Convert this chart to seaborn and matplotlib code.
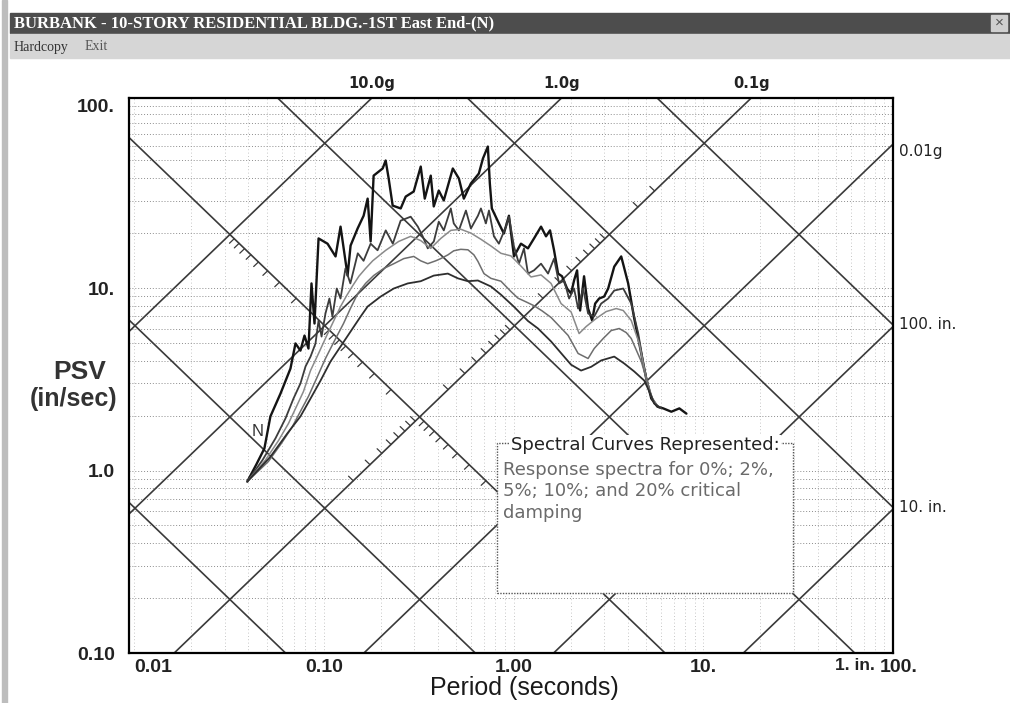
import numpy as np
import pandas as pd
import seaborn as sns
import matplotlib.pyplot as plt
import matplotlib.transforms as mtransforms
from matplotlib.patches import Rectangle
from matplotlib.ticker import LogLocator, NullFormatter

# response spectra: period (s) and PSV (in/sec), one pair per damping
per_00 = [0.0395, 0.0441, 0.0486, 0.0523, 0.0591, 0.0667, 0.0709, 0.0753, 0.0791, 0.0830, 0.0861, 0.0893,
          0.0938, 0.1046, 0.1153, 0.1225, 0.1334, 0.1384, 0.1507, 0.1621, 0.1702, 0.1765, 0.1830, 0.2042,
          0.2118, 0.2197, 0.2306, 0.2542, 0.2701, 0.2977, 0.3242, 0.3404, 0.3661, 0.3797, 0.4035, 0.4288,
          0.4785, 0.5152, 0.5470, 0.5956, 0.6563, 0.6894, 0.7321, 0.7500, 0.7684, 0.8370, 0.8892, 0.9455,
          1.005, 1.094, 1.191, 1.282, 1.396, 1.483, 1.557, 1.635, 1.717, 1.801, 1.915, 2.010, 2.084, 2.162,
          2.243, 2.353, 2.471, 2.596, 2.692, 2.825, 3.002, 3.153, 3.394, 3.694, 4.019, 4.325, 4.712, 5.003,
          5.321, 5.728, 6.153, 6.787, 7.480, 8.15]
psv_00 = [0.87, 1.08, 1.32, 1.98, 2.64, 3.62, 4.97, 4.54, 5.49, 4.66, 10.6, 6.39,
          18.7, 17.5, 14.9, 21.7, 11.7, 17.1, 21.2, 24.9, 30.9, 18.0, 41.3, 45.2,
          50.0, 39.8, 28.3, 27.3, 31.7, 33.8, 46.3, 30.9, 41.3, 28.0, 34.2, 30.2,
          45.2, 39.8, 30.9, 37.4, 42.4, 51.2, 59.6, 37.4, 27.3, 22.6, 19.9, 24.9,
          14.9, 17.5, 16.5, 18.7, 21.7, 19.2, 20.7, 16.1, 12.0, 11.6, 9.94, 9.33, 11.0, 12.5,
          7.53, 11.6, 7.72, 6.64, 8.22, 8.76, 8.98, 9.94, 13.1, 14.9, 10.6, 6.81, 4.38, 3.19,
          2.48, 2.24, 2.19, 2.10, 2.19, 2.05]

per_02 = [0.0395, 0.0475, 0.0556, 0.0628, 0.0692, 0.0753, 0.0801, 0.0851, 0.0904, 0.0938, 0.0973, 0.102,
          0.107, 0.111, 0.117, 0.1225, 0.130, 0.138, 0.151, 0.162, 0.1765, 0.192, 0.212, 0.231, 0.254,
          0.287, 0.313, 0.332, 0.353, 0.380, 0.4035, 0.429, 0.467, 0.484, 0.515, 0.561, 0.596, 0.649,
          0.673, 0.715, 0.742, 0.788, 0.837, 0.912, 0.946, 1.005, 1.068, 1.135, 1.191, 1.282, 1.396,
          1.520, 1.635, 1.738, 1.847, 1.963, 2.084, 2.189, 2.326, 2.471, 2.660, 2.896, 3.153, 3.394,
          3.786, 4.172, 4.543, 4.887, 5.194, 5.518, 6.010]
psv_02 = [0.87, 1.14, 1.50, 1.93, 2.48, 3.00, 3.72, 4.21, 4.97, 6.64, 5.42, 7.25,
          8.76, 6.98, 9.94, 8.76, 12.8, 10.6, 15.5, 14.1, 17.5, 16.1, 20.7, 17.5, 23.4,
          24.6, 21.7, 19.2, 16.5, 18.0, 23.1, 20.7, 27.3, 22.6, 20.7, 26.6, 21.2, 24.9,
          27.3, 22.6, 26.6, 19.2, 17.5, 21.7, 24.6, 16.9, 13.6, 16.5, 12.0, 12.5, 13.6,
          12.0, 14.5, 10.6, 11.0, 8.76, 9.94, 7.72, 9.94, 7.25, 6.98, 8.22, 8.76, 9.69,
          9.94, 8.22, 5.63, 3.62, 2.74, 2.33, 2.19]

per_05 = [0.0395, 0.0492, 0.0577, 0.0651, 0.0717, 0.0781, 0.0851, 0.0938, 0.103, 0.113, 0.1225, 0.132,
          0.142, 0.153, 0.166, 0.181, 0.212, 0.248, 0.287, 0.324, 0.366, 0.4135, 0.467, 0.527, 0.596,
          0.673, 0.760, 0.858, 0.969, 1.094, 1.236, 1.396, 1.576, 1.780, 2.010, 2.216, 2.413, 2.725,
          3.077, 3.475, 3.786, 4.172, 4.599, 5.003, 5.321, 5.655]
psv_05 = [0.87, 1.14, 1.46, 1.81, 2.24, 2.71, 3.53, 4.38, 5.42, 6.64, 7.92, 9.10,
          10.3, 11.6, 12.8, 14.1, 16.1, 18.0, 19.2, 18.2, 16.5, 18.7, 20.7, 21.0, 20.0,
          18.5, 17.0, 15.5, 15.0, 13.2, 11.5, 11.8, 10.6, 8.22, 7.40, 5.63, 6.15, 6.81,
          7.43, 7.72, 7.53, 6.64, 4.97, 3.19, 2.55, 2.30]

per_10 = [0.0395, 0.0510, 0.0598, 0.0683, 0.0753, 0.0830, 0.0915, 0.102, 0.114, 0.127, 0.138, 0.151,
          0.166, 0.183, 0.207, 0.234, 0.264, 0.298, 0.324, 0.353, 0.389, 0.4135, 0.451, 0.484, 0.527,
          0.575, 0.618, 0.649, 0.698, 0.760, 0.858, 0.969, 1.055, 1.163, 1.282, 1.413, 1.576, 1.738,
          1.939, 2.189, 2.471, 2.660, 2.968, 3.271, 3.606, 3.926, 4.172, 4.712, 5.069, 5.387, 5.728]
psv_10 = [0.87, 1.12, 1.41, 1.74, 2.11, 2.55, 3.19, 4.11, 5.16, 6.39, 7.72, 9.33,
          10.6, 11.7, 12.8, 13.6, 14.5, 14.9, 14.1, 13.6, 14.1, 14.5, 15.2, 16.0, 16.3,
          16.2, 15.2, 14.0, 12.0, 11.3, 10.9, 9.57, 8.80, 8.40, 8.00, 7.50, 6.90, 6.20,
          5.50, 4.38, 4.11, 4.66, 5.29, 5.85, 6.00, 5.70, 5.29, 3.96, 3.07, 2.48, 2.27]

per_20 = [0.0395, 0.0523, 0.0643, 0.0753, 0.0851, 0.0961, 0.1085, 0.1225, 0.1384, 0.1563, 0.1702, 0.1993,
          0.2336, 0.2769, 0.3242, 0.3797, 0.4505, 0.5087, 0.5745, 0.6486, 0.7596, 0.8578, 1.005, 1.191,
          1.346, 1.576, 1.780, 2.010, 2.270, 2.564, 2.896, 3.394, 3.83, 4.325, 4.887, 5.194, 5.518, 5.865]
psv_20 = [0.87, 1.19, 1.60, 1.98, 2.48, 3.11, 3.96, 4.78, 5.78, 6.98, 7.92, 8.98,
          9.94, 10.6, 10.9, 11.7, 12.0, 11.3, 10.9, 11.0, 10.2, 9.20, 7.90, 6.60,
          6.00, 5.10, 4.40, 3.80, 3.53, 3.70, 4.01, 4.21, 3.86, 3.49, 3.11, 2.71, 2.33, 2.21]

damping = ['0%', '2%', '5%', '10%', '20%']

x_ticks = [0.01, 0.1, 1, 10, 100]
x_labels = ['0.01', '0.10', '1.00', '10.', '100.']
y_ticks = [0.1, 1, 10, 100]
y_labels = ['0.10', '1.0', '10.', '100.']

# tripartite grid: constant displacement (in) and constant acceleration (g)
disp_in = [0.001, 0.01, 0.1, 1, 10, 100]
acc_g = [0.0001, 0.001, 0.01, 0.1, 1, 10]
top_acc = {10: '10.0g', 1: '1.0g', 0.1: '0.1g'}
right_acc = {0.01: '0.01g'}
right_disp = {100: '100. in.', 10: '10. in.'}
bottom_disp = {1: '1. in.'}
G = 386.1  # in/s^2

win_title = 'BURBANK - 10-STORY RESIDENTIAL BLDG.-1ST East End-(N)'
box_title = 'Spectral Curves Represented:'
box_lines = ['Response spectra for 0%; 2%,', '5%; 10%; and 20% critical', 'damping']

##############################################################################
frames = []
for lab, t, v in zip(damping, [per_00, per_02, per_05, per_10, per_20],
                     [psv_00, psv_02, psv_05, psv_10, psv_20]):
    frames.append(pd.DataFrame({'period': t, 'psv': v, 'damping': lab}))
df = pd.concat(frames, ignore_index=True)

sns.set_style('white')
plt.rcParams['font.family'] = ['Liberation Sans', 'DejaVu Sans']

W, H = 1010, 703
fig = plt.figure(figsize=(W / 100, H / 100), dpi=100)
fig.patch.set_facecolor('white')

def fx(px):
    return px / W

def fy(py):
    return 1 - py / H

# window chrome
fig.patches.append(Rectangle((fx(10), fy(33)), fx(1000), 20 / H, transform=fig.transFigure,
                             color='#4d4d4d', zorder=0))
fig.patches.append(Rectangle((fx(10), fy(58)), fx(1000), 24 / H, transform=fig.transFigure,
                             color='#d6d6d6', zorder=0))
fig.patches.append(Rectangle((fx(2), 0), fx(5), 1, transform=fig.transFigure,
                             color='#bdbdbd', zorder=0))
fig.patches.append(Rectangle((fx(991), fy(31)), fx(16), 16 / H, transform=fig.transFigure,
                             color='#cfcfcf', zorder=1))
fig.text(fx(999), fy(23), '×', ha='center', va='center', fontsize=11, color='#555555')
fig.text(fx(14), fy(23), win_title, color='white', fontweight='bold', fontsize=12,
         family=['Liberation Serif', 'DejaVu Serif'], va='center')
fig.text(fx(14), fy(47), 'Hardcopy', fontsize=10, family=['Liberation Serif', 'DejaVu Serif'],
         va='center', color='#333333')
fig.text(fx(85), fy(47), 'Exit', fontsize=10, family=['Liberation Serif', 'DejaVu Serif'],
         va='center', color='#555555')

ax = fig.add_axes([fx(129), fy(653), fx(764), 555 / H])
ax.set_xscale('log')
ax.set_yscale('log')
ax.set_xlim(0.0094, 100)
ax.set_ylim(0.1, 110)

# dotted log grid
ax.xaxis.set_minor_locator(LogLocator(base=10, subs=np.arange(2, 10)))
ax.yaxis.set_minor_locator(LogLocator(base=10, subs=np.arange(2, 10)))
ax.xaxis.set_minor_formatter(NullFormatter())
ax.yaxis.set_minor_formatter(NullFormatter())
ax.grid(True, axis='y', which='both', ls=(0, (1, 2)), color='#8c8c8c', lw=0.7, zorder=0)
ax.grid(True, axis='x', which='both', ls=(0, (1, 3)), color='#b3b3b3', lw=0.6, zorder=0)

# diagonal lines
tt = np.array([1e-4, 1e4])
for d in disp_in:
    ax.plot(tt, 2 * np.pi * d / tt, color='#3a3a3a', lw=1.2, zorder=1)
for a in acc_g:
    ax.plot(tt, a * G * tt / (2 * np.pi), color='#3a3a3a', lw=1.2, zorder=1)

# small ticks along the 0.1 in and 0.1 g lines (middle part only, as on the scan)
dd = 0.025
for k in range(-4, 3):
    for m in range(2, 10):
        a = m * 10.0 ** k
        t = 2 * np.pi * np.sqrt(0.1 / (a * G))
        v = 2 * np.pi * 0.1 / t
        if 0.032 < t < 0.8:
            ax.plot([t, t * 10 ** -dd], [v, v * 10 ** -dd], color='#3a3a3a', lw=0.9, zorder=1)
        dval = m * 10.0 ** k
        t = 2 * np.pi * np.sqrt(dval / (0.1 * G))
        v = 2 * np.pi * dval / t
        if 0.14 < t < 6:
            ax.plot([t, t * 10 ** -dd], [v, v * 10 ** dd], color='#3a3a3a', lw=0.9, zorder=1)

# spectral curves
palette = {'0%': '#141414', '2%': '#3c3c3c', '5%': '#8a8a8a', '10%': '#6e6e6e', '20%': '#2e2e2e'}
sizes = {'0%': 1.7, '2%': 1.3, '5%': 1.1, '10%': 1.1, '20%': 1.3}
sns.lineplot(data=df, x='period', y='psv', hue='damping', size='damping', palette=palette,
             sizes=sizes, sort=False, estimator=None, legend=False, ax=ax, zorder=3)
ax.text(0.0449, 1.63, 'N', fontsize=12, color='#333333', ha='center', va='center', zorder=3)

# labels of the diagonal lines
ytop = ax.get_ylim()[1]
for a, lab in top_acc.items():
    ax.text(2 * np.pi * ytop / (a * G), 1.012, lab, transform=ax.get_xaxis_transform(),
            ha='center', va='bottom', fontsize=10.5, fontweight='bold', family='DejaVu Sans',
            color='#222222')
for a, lab in right_acc.items():
    ax.text(1.008, a * G * 100 / (2 * np.pi), lab, transform=ax.get_yaxis_transform(),
            ha='left', va='top', fontsize=11, family='DejaVu Sans', color='#222222')
for d, lab in right_disp.items():
    ax.text(1.008, 2 * np.pi * d / 100, lab, transform=ax.get_yaxis_transform(),
            ha='left', va='center', fontsize=11, family='DejaVu Sans', color='#222222')
for d, lab in bottom_disp.items():
    ax.text(2 * np.pi * d / 0.1, -0.009, lab, transform=ax.get_xaxis_transform(),
            ha='center', va='top', fontsize=12.5, fontweight='bold', color='#222222')

ax.set_xticks(x_ticks)
ax.set_xticklabels(x_labels)
ax.set_yticks(y_ticks)
ax.set_yticklabels(y_labels)
ax.tick_params(which='both', length=0)
ax.tick_params(axis='x', pad=4)
ax.tick_params(axis='y', pad=10)
for lbl in ax.get_xticklabels() + ax.get_yticklabels():
    lbl.set_fontsize(14)
    lbl.set_fontweight('bold')
    lbl.set_color('#222222')
xl = ax.get_xticklabels()
xl[0].set_horizontalalignment('left')
xl[-1].set_transform(xl[-1].get_transform() +
                     mtransforms.ScaledTranslation(6 / 100, 0, fig.dpi_scale_trans))

ax.set_xlabel('')
ax.set_ylabel('')
fig.text(fx(524), fy(688), 'Period (seconds)', fontsize=18, ha='center', va='center',
         color='#1a1a1a')
fig.text(fx(80), fy(372), 'PSV', fontsize=19, fontweight='bold', ha='center', va='center',
         color='#333333')
fig.text(fx(74), fy(399), '(in/sec)', fontsize=18, fontweight='bold', ha='center', va='center',
         color='#333333')

for s in ax.spines.values():
    s.set_visible(True)
    s.set_color('black')
    s.set_linewidth(1.6)

# legend box
box = Rectangle((fx(497), fy(593)), fx(296), 150 / H, transform=fig.transFigure,
                facecolor='white', edgecolor='#555555', ls=(0, (1, 1)), lw=1.0, zorder=5)
box.set_clip_on(False)
ax.add_patch(box)
fig.text(fx(511), fy(445), box_title, fontsize=13, family='DejaVu Sans', color='#222222',
         va='center', zorder=6, bbox=dict(facecolor='white', edgecolor='none', pad=1))
for i, line in enumerate(box_lines):
    fig.text(fx(503), fy(470 + 21.5 * i), line, fontsize=13, family='DejaVu Sans',
             color='#6a6a6a', va='center', zorder=6)

fig.savefig('out.png', dpi=100, facecolor='white')
